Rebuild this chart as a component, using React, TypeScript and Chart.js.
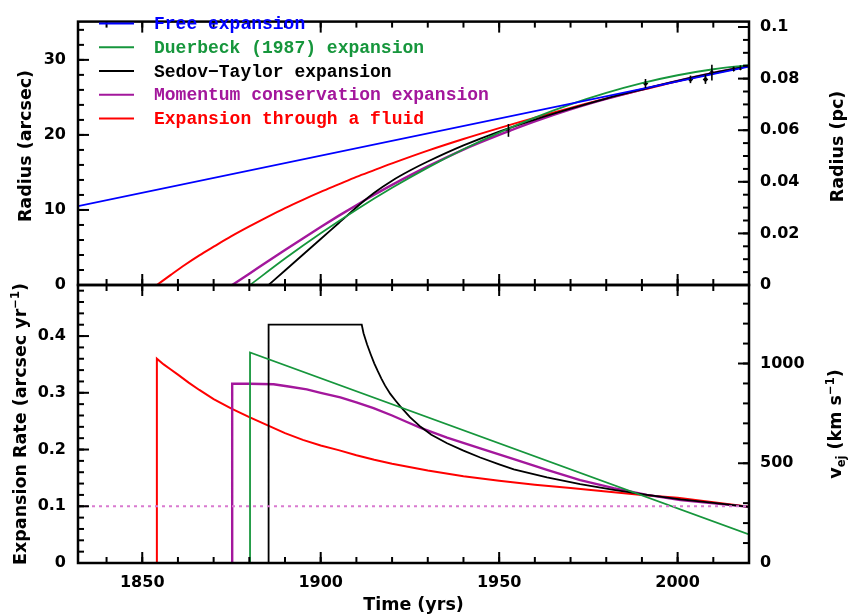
import { useEffect, useRef } from 'react';
import { Chart, registerables } from 'chart.js';
Chart.register(...registerables);

// ---------- data ----------
const DIST_PC = 600;
const ARCSEC_PER_RAD = 206265;
const KMS_PER_AU_YR = 4.74;

const legendLabels = [
  'Free expansion',
  'Duerbeck (1987) expansion',
  'Sedov\u2212Taylor expansion',
  'Momentum conservation expansion',
  'Expansion through a fluid',
];

// top panel: radius (arcsec)
const freeYears = [1832, 2020];
const freeRadius = [10.5, 29.1];

const duerbeckYears = [1880.2, 1890, 1900, 1910, 1920, 1930, 1940, 1950, 1960, 1970, 1980, 1990, 2000, 2010, 2020];
const duerbeckRadius = [0, 3.53, 6.9, 10.04, 12.95, 15.64, 18.09, 20.31, 22.31, 24.07, 25.6, 26.9, 27.95, 28.75, 29.3];

const sedovYears = [1885.4, 1890, 1895, 1900, 1905, 1911.5, 1915, 1920, 1925, 1930, 1940, 1950, 1960, 1970, 1980, 1990, 2000, 2010, 2020];
const sedovRadius = [0, 1.93, 4.03, 6.13, 8.23, 10.96, 12.3, 13.9, 15.25, 16.45, 18.6, 20.45, 22.05, 23.5, 24.85, 26.05, 27.2, 28.25, 29.2];

const momentumYears = [1875.2, 1880, 1885, 1890, 1895, 1900, 1905, 1910, 1915, 1920, 1930, 1940, 1950, 1960, 1970, 1980, 1990, 2000, 2010, 2020];
const momentumRadius = [0, 1.51, 3.09, 4.66, 6.21, 7.73, 9.21, 10.64, 12.02, 13.34, 15.8, 18.05, 20.0, 21.8, 23.4, 24.8, 26.05, 27.2, 28.25, 29.2];

const fluidYears = [1854.1, 1858, 1862, 1866, 1870, 1875, 1880, 1885, 1890, 1895, 1900, 1905, 1910, 1915, 1920, 1930, 1940, 1950, 1960, 1970, 1980, 1990, 2000, 2010, 2020];
const fluidRadius = [0, 1.35, 2.7, 3.95, 5.1, 6.5, 7.8, 9.05, 10.25, 11.35, 12.4, 13.4, 14.4, 15.3, 16.2, 17.9, 19.45, 20.9, 22.3, 23.6, 24.85, 26.0, 27.15, 28.2, 29.2];

const obsYears = [1952.6, 1991.0, 2003.6, 2007.8, 2009.6, 2015.7, 2017.6];
const obsRadius = [20.6, 26.85, 27.4, 27.4, 28.3, 28.8, 28.95];
const obsError = [0.85, 0.6, 0.5, 0.6, 1.05, 0.3, 0.3];

// bottom panel: expansion rate (arcsec / yr)
const freeRateYears = [1832, 2020];
const freeRate = [0.1, 0.1];

const duerbeckRateYears = [1880.2, 1880.2, 2020];
const duerbeckRate = [0, 0.371, 0.0505];

const sedovRateYears = [1885.4, 1885.4, 1911.5, 1912, 1913, 1914, 1915, 1916, 1917, 1918, 1919.5, 1921, 1922.3, 1925, 1928, 1931, 1935.4, 1940, 1944.7, 1950, 1954.1, 1963.4, 1972.7, 1982.1, 1991.4, 2000.8, 2010.1, 2020];
const sedovRate = [0, 0.42, 0.42, 0.405, 0.385, 0.368, 0.352, 0.338, 0.325, 0.313, 0.298, 0.286, 0.276, 0.257, 0.24, 0.226, 0.211, 0.198, 0.186, 0.174, 0.165, 0.151, 0.139, 0.129, 0.12, 0.112, 0.106, 0.099];

const momentumRateYears = [1875.2, 1875.2, 1880, 1886.8, 1891, 1896.1, 1900, 1905.5, 1910, 1914.8, 1920, 1924, 1928, 1935.4, 1944.7, 1954.1, 1963.4, 1972.7, 1982.1, 1991.4, 2000.8, 2010.1, 2020];
const momentumRate = [0, 0.316, 0.316, 0.315, 0.311, 0.306, 0.3, 0.292, 0.283, 0.273, 0.26, 0.249, 0.238, 0.221, 0.202, 0.183, 0.164, 0.146, 0.132, 0.12, 0.111, 0.105, 0.099];

const fluidRateYears = [1854.1, 1854.1, 1856, 1858, 1860, 1863, 1866, 1870, 1875, 1880, 1885, 1890, 1895, 1900, 1905, 1910, 1915, 1920, 1930, 1940, 1950, 1960, 1970, 1980, 1990, 2000, 2010, 2020];
const fluidRate = [0, 0.36, 0.35, 0.341, 0.332, 0.318, 0.305, 0.289, 0.272, 0.257, 0.243, 0.229, 0.217, 0.207, 0.199, 0.19, 0.182, 0.175, 0.163, 0.153, 0.145, 0.138, 0.132, 0.126, 0.12, 0.115, 0.107, 0.099];

// axis ranges
const X_MIN = 1832, X_MAX = 2020;
const R_MAX = 35.1;
const RATE_MAX = 0.49;

// ---------- style / layout ----------
const W = 848, H = 616;
const PLOT_LEFT = 78, PLOT_RIGHT = 749, PLOT_TOP = 7, PLOT_MID = 285, PLOT_BOTTOM = 563;
const FONT = "'DejaVu Sans', sans-serif";
const LEGEND_FONT = "bold 18px 'Liberation Mono', 'DejaVu Sans Mono', monospace";
const BLUE = '#0000ff', GREEN = '#16963c', BLACK = '#000000', MAGENTA = '#a3179c', RED = '#ff0000', DOTTED = '#d97ad0';
const colors = [BLUE, GREEN, BLACK, MAGENTA, RED];

const pts = (xs: number[], ys: number[]) => xs.map((x, i) => ({ x, y: ys[i] }));

function lineDs(label: string, data: any[], color: string, width: number, extra: any = {}) {
  return {
    label, data, borderColor: color, backgroundColor: color, borderWidth: width,
    pointRadius: 0, fill: false, tension: 0, ...extra,
  };
}

function drawRich(ctx: any, cx: number, cy: number, segs: any[], rot: number) {
  ctx.save();
  ctx.translate(cx, cy);
  ctx.rotate(rot);
  ctx.fillStyle = '#000';
  ctx.textBaseline = 'alphabetic';
  ctx.textAlign = 'left';
  let total = 0;
  const widths = segs.map((s) => {
    ctx.font = `bold ${s.size}px ${FONT}`;
    const w = ctx.measureText(s.t).width;
    total += w;
    return w;
  });
  let x = -total / 2;
  segs.forEach((s, i) => {
    ctx.font = `bold ${s.size}px ${FONT}`;
    ctx.fillText(s.t, x, 6.3 + (s.dy || 0));
    x += widths[i];
  });
  ctx.restore();
}

function tickPlugin(spec: any) {
  return {
    id: 'frameTicks',
    afterDatasetsDraw(chart: any) {
      const { ctx, chartArea: a } = chart;
      ctx.save();
      ctx.strokeStyle = '#000';
      ctx.lineWidth = 2;
      ctx.lineCap = 'butt';
      const seg = (x1: number, y1: number, x2: number, y2: number) => {
        ctx.beginPath(); ctx.moveTo(x1, y1); ctx.lineTo(x2, y2); ctx.stroke();
      };
      const each = (s: any, step: number, fn: (p: number) => void) => {
        const n0 = Math.ceil(s.min / step - 1e-6);
        const n1 = Math.floor(s.max / step + 1e-6);
        for (let n = n0; n <= n1; n++) fn(s.getPixelForValue(n * step));
      };
      const xs = chart.scales.x;
      [[spec.xMinor, 6], [spec.xMajor, 11]].forEach(([st, len]: any) =>
        each(xs, st, (p) => { seg(p, a.top, p, a.top + len); seg(p, a.bottom, p, a.bottom - len); }));
      const yl = chart.scales.y, yr = chart.scales.y2;
      [[spec.lMinor, 6], [spec.lMajor, 11]].forEach(([st, len]: any) =>
        each(yl, st, (p) => seg(a.left, p, a.left + len, p)));
      [[spec.rMinor, 6], [spec.rMajor, 11]].forEach(([st, len]: any) =>
        each(yr, st, (p) => seg(a.right, p, a.right - len, p)));
      ctx.lineWidth = 2.5;
      ctx.strokeRect(a.left, a.top, a.right - a.left, a.bottom - a.top);
      ctx.restore();
      if (spec.titles) spec.titles(ctx);
    },
  };
}

const errorBarPlugin = {
  id: 'errorBars',
  afterDatasetsDraw(chart: any) {
    const ds = chart.data.datasets.findIndex((d: any) => d.errors);
    if (ds < 0) return;
    const d = chart.data.datasets[ds];
    const { ctx } = chart;
    const xs = chart.scales.x, ys = chart.scales.y;
    ctx.save();
    ctx.strokeStyle = '#000';
    ctx.lineWidth = 1.6;
    d.data.forEach((p: any, i: number) => {
      const px = xs.getPixelForValue(p.x);
      ctx.beginPath();
      ctx.moveTo(px, ys.getPixelForValue(p.y - d.errors[i]));
      ctx.lineTo(px, ys.getPixelForValue(p.y + d.errors[i]));
      ctx.stroke();
    });
    ctx.restore();
  },
};

const legendPlugin = {
  id: 'insideLegend',
  afterDraw(chart: any) {
    const { ctx } = chart;
    ctx.save();
    ctx.font = LEGEND_FONT;
    ctx.textBaseline = 'middle';
    ctx.textAlign = 'left';
    chart.data.datasets.filter((d: any) => d.inLegend).forEach((d: any, i: number) => {
      const y = 23.5 + i * 23.75;
      ctx.strokeStyle = d.borderColor;
      ctx.lineWidth = 2;
      ctx.beginPath(); ctx.moveTo(99, y); ctx.lineTo(134, y); ctx.stroke();
      ctx.fillStyle = d.borderColor;
      ctx.fillText(d.label, 154, y + 1);
    });
    ctx.restore();
  },
};

const tickFont = { family: FONT, size: 16, weight: 'bold' };

function stepTicks(step: number) {
  return (s: any) => {
    const out: any[] = [];
    const n0 = Math.ceil(s.min / step - 1e-6);
    const n1 = Math.floor(s.max / step + 1e-6);
    for (let n = n0; n <= n1; n++) out.push({ value: Math.round(n * step * 1e6) / 1e6 });
    s.ticks = out;
  };
}

function yAxis(min: number, max: number, step: number, pos: string, width: number, fmt: (v: number) => string, pad: number) {
  return {
    type: 'linear', position: pos, min, max,
    grid: { display: false, drawTicks: false }, border: { display: false },
    ticks: { color: '#000', font: tickFont, padding: pad, autoSkip: false, callback: (v: any) => fmt(Number(v)) },
    afterBuildTicks: stepTicks(step),
    afterFit: (s: any) => { s.width = width; },
  };
}

export default function App() {
  const topRef = useRef<HTMLCanvasElement>(null);
  const botRef = useRef<HTMLCanvasElement>(null);

  useEffect(() => {
    const pcMax = (R_MAX * DIST_PC) / ARCSEC_PER_RAD;
    const vMax = RATE_MAX * DIST_PC * KMS_PER_AU_YR;

    const top = new Chart(topRef.current as HTMLCanvasElement, {
      type: 'line',
      data: {
        datasets: [
          lineDs(legendLabels[0], pts(freeYears, freeRadius), colors[0], 1.8, { inLegend: true }),
          lineDs(legendLabels[1], pts(duerbeckYears, duerbeckRadius), colors[1], 1.8, { inLegend: true, cubicInterpolationMode: 'monotone' }),
          lineDs(legendLabels[2], pts(sedovYears, sedovRadius), colors[2], 1.8, { inLegend: true, cubicInterpolationMode: 'monotone' }),
          lineDs(legendLabels[3], pts(momentumYears, momentumRadius), colors[3], 2.4, { inLegend: true, cubicInterpolationMode: 'monotone' }),
          lineDs(legendLabels[4], pts(fluidYears, fluidRadius), colors[4], 2.0, { inLegend: true, cubicInterpolationMode: 'monotone' }),
          {
            label: 'Observed radius', data: pts(obsYears, obsRadius), errors: obsError,
            showLine: false, pointRadius: 2.8, pointStyle: 'rectRot', backgroundColor: '#000', borderColor: '#000', borderWidth: 0,
          },
        ],
      } as any,
      options: {
        responsive: false, maintainAspectRatio: false, animation: false,
        layout: { padding: { top: PLOT_TOP, bottom: H - PLOT_MID, left: 0, right: 0 } },
        plugins: { legend: { display: false }, tooltip: { enabled: false } },
        scales: {
          x: { type: 'linear', min: X_MIN, max: X_MAX, display: false },
          y: yAxis(0, R_MAX, 10, 'left', PLOT_LEFT, (v) => String(v), 12),
          y2: yAxis(0, pcMax, 0.02, 'right', W - PLOT_RIGHT, (v) => String(Math.round(v * 1000) / 1000), 11),
        },
      } as any,
      plugins: [
        errorBarPlugin,
        tickPlugin({
          xMinor: 10, xMajor: 50, lMinor: 2, lMajor: 10, rMinor: 0.005, rMajor: 0.02,
          titles: (ctx: any) => {
            drawRich(ctx, 25, 146, [{ t: 'Radius (arcsec)', size: 17.5 }], -Math.PI / 2);
            drawRich(ctx, 836.5, 146.5, [{ t: 'Radius (pc)', size: 17.5 }], -Math.PI / 2);
          },
        }),
        legendPlugin,
      ] as any,
    });

    const bot = new Chart(botRef.current as HTMLCanvasElement, {
      type: 'line',
      data: {
        datasets: [
          lineDs('Free expansion rate', pts(freeRateYears, freeRate), DOTTED, 2, { borderDash: [3, 4] }),
          lineDs(legendLabels[1], pts(duerbeckRateYears, duerbeckRate), colors[1], 1.8),
          lineDs(legendLabels[2], pts(sedovRateYears, sedovRate), colors[2], 1.8),
          lineDs(legendLabels[3], pts(momentumRateYears, momentumRate), colors[3], 2.4),
          lineDs(legendLabels[4], pts(fluidRateYears, fluidRate), colors[4], 2.0),
        ],
      } as any,
      options: {
        responsive: false, maintainAspectRatio: false, animation: false,
        layout: { padding: { top: PLOT_MID, bottom: 0, left: 0, right: 0 } },
        plugins: { legend: { display: false }, tooltip: { enabled: false } },
        scales: {
          x: {
            type: 'linear', position: 'bottom', min: X_MIN, max: X_MAX,
            grid: { display: false, drawTicks: false }, border: { display: false },
            ticks: { color: '#000', font: tickFont, padding: 10, maxRotation: 0, autoSkip: false, callback: (v: any) => String(v) },
            afterBuildTicks: stepTicks(50),
            afterFit: (s: any) => { s.height = H - PLOT_BOTTOM; },
          },
          y: yAxis(0, RATE_MAX, 0.1, 'left', PLOT_LEFT, (v) => String(Math.round(v * 100) / 100), 12),
          y2: yAxis(0, vMax, 500, 'right', W - PLOT_RIGHT, (v) => String(Math.round(v)), 11),
        },
      } as any,
      plugins: [
        tickPlugin({
          xMinor: 10, xMajor: 50, lMinor: 0.02, lMajor: 0.1, rMinor: 100, rMajor: 500,
          titles: (ctx: any) => {
            drawRich(ctx, 19.5, 424, [
              { t: 'Expansion Rate (arcsec yr', size: 17.5 },
              { t: '\u22121', size: 11.5, dy: -7 },
              { t: ')', size: 17.5 },
            ], -Math.PI / 2);
            drawRich(ctx, 835, 424, [
              { t: 'v', size: 17.5 },
              { t: 'ej', size: 11.5, dy: 4 },
              { t: ' (km s', size: 17.5 },
              { t: '\u22121', size: 11.5, dy: -7 },
              { t: ')', size: 17.5 },
            ], -Math.PI / 2);
            drawRich(ctx, 413.5, 604, [{ t: 'Time (yrs)', size: 17.5 }], 0);
          },
        }),
      ] as any,
    });

    return () => { top.destroy(); bot.destroy(); };
  }, []);

  const cs: any = { position: 'absolute', left: 0, top: 0, width: W, height: H };
  return (
    <div style={{ position: 'absolute', left: 0, top: 0, width: W, height: H, background: '#fff' }}>
      <canvas ref={topRef} width={W} height={H} style={cs} />
      <canvas ref={botRef} width={W} height={H} style={cs} />
    </div>
  );
}
